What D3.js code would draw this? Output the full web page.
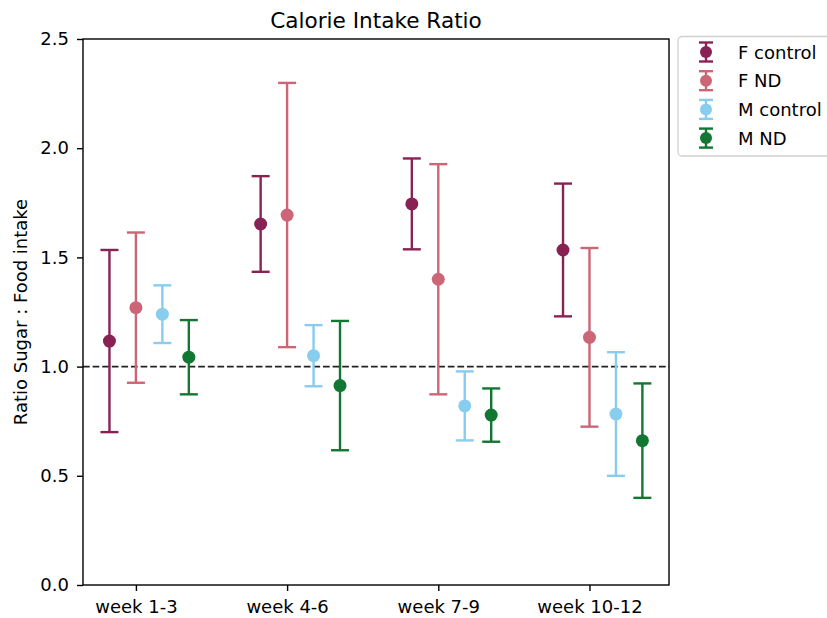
<!DOCTYPE html>
<html>
<head>
<meta charset="utf-8">
<script src="https://cdn.jsdelivr.net/npm/d3@7"></script>
<style>
body { margin: 0; background: #fff; }
text { font-family: "DejaVu Sans", sans-serif; fill: #000; }
</style>
</head>
<body>
<div id="chart"></div>
<script>
var width = 827;
var height = 618;

// data
var weeks = ["week 1-3", "week 4-6", "week 7-9", "week 10-12"];
var groups = ["F control", "F ND", "M control", "M ND"];
var colors = ["#882255", "#CC6677", "#88CCEE", "#117733"];
var offsets = [-0.175, 0, 0.175, 0.35];
var fControl = [1.117, 1.653, 1.745, 1.534];
var fControlErr = [0.417, 0.219, 0.208, 0.304];
var fND = [1.27, 1.694, 1.40, 1.134];
var fNDErr = [0.344, 0.605, 0.527, 0.409];
var mControl = [1.24, 1.05, 0.82, 0.783];
var mControlErr = [0.132, 0.14, 0.158, 0.283];
var mND = [1.043, 0.913, 0.778, 0.661];
var mNDErr = [0.17, 0.296, 0.122, 0.262];
var yTicks = [0, 0.5, 1.0, 1.5, 2.0, 2.5];

var means = [fControl, fND, mControl, mND];
var errs = [fControlErr, fNDErr, mControlErr, mNDErr];

var margin = {left: 83, right: 669, top: 39, bottom: 585};

var x = d3.scaleLinear().domain([-0.35, 3.526]).range([margin.left, margin.right]);
var y = d3.scaleLinear().domain([0, 2.5]).range([margin.bottom, margin.top]);

var svg = d3.select("#chart").append("svg")
  .attr("width", width)
  .attr("height", height);

// dashed reference line
svg.append("line")
  .attr("x1", margin.left).attr("x2", margin.right)
  .attr("y1", y(1)).attr("y2", y(1))
  .attr("stroke", "#222")
  .attr("stroke-width", 1.8)
  .attr("stroke-dasharray", "6.7,2.9");

var pts = [];
means.forEach(function(series, g) {
  series.forEach(function(v, i) {
    pts.push({g: g, i: i, v: v, e: errs[g][i]});
  });
});

var cap = 9;
var lw = 2.4;
var marks = svg.append("g").selectAll("g")
  .data(pts)
  .enter().append("g");

marks.append("line")
  .attr("x1", d => x(d.i + offsets[d.g])).attr("x2", d => x(d.i + offsets[d.g]))
  .attr("y1", d => y(d.v - d.e)).attr("y2", d => y(d.v + d.e))
  .attr("stroke", d => colors[d.g]).attr("stroke-width", lw);
marks.append("line")
  .attr("x1", d => x(d.i + offsets[d.g]) - cap).attr("x2", d => x(d.i + offsets[d.g]) + cap)
  .attr("y1", d => y(d.v + d.e)).attr("y2", d => y(d.v + d.e))
  .attr("stroke", d => colors[d.g]).attr("stroke-width", lw);
marks.append("line")
  .attr("x1", d => x(d.i + offsets[d.g]) - cap).attr("x2", d => x(d.i + offsets[d.g]) + cap)
  .attr("y1", d => y(d.v - d.e)).attr("y2", d => y(d.v - d.e))
  .attr("stroke", d => colors[d.g]).attr("stroke-width", lw);
marks.append("circle")
  .attr("cx", d => x(d.i + offsets[d.g]))
  .attr("cy", d => y(d.v))
  .attr("r", 6.5)
  .attr("fill", d => colors[d.g]);

// frame
svg.append("rect")
  .attr("x", margin.left).attr("y", margin.top)
  .attr("width", margin.right - margin.left)
  .attr("height", margin.bottom - margin.top)
  .attr("fill", "none").attr("stroke", "#000").attr("stroke-width", 1.4);

// axes
var xAxis = svg.append("g")
  .attr("transform", "translate(0," + margin.bottom + ")")
  .call(d3.axisBottom(x).tickValues([0, 1, 2, 3]).tickFormat(d => weeks[d]).tickSize(6).tickPadding(9));
var yAxis = svg.append("g")
  .attr("transform", "translate(" + margin.left + ",0)")
  .call(d3.axisLeft(y).tickValues(yTicks).tickFormat(d3.format(".1f")).tickSize(6).tickPadding(8));
[xAxis, yAxis].forEach(function(a) {
  a.select(".domain").remove();
  a.selectAll("text").style("font-size", "18px").style("font-family", "DejaVu Sans");
  a.selectAll("line").attr("stroke-width", 1.4);
});

svg.append("text")
  .attr("x", (margin.left + margin.right) / 2)
  .attr("y", 28)
  .attr("text-anchor", "middle")
  .style("font-size", "21.6px")
  .text("Calorie Intake Ratio");

svg.append("text")
  .attr("transform", "translate(27," + ((margin.top + margin.bottom) / 2) + ") rotate(-90)")
  .attr("text-anchor", "middle")
  .style("font-size", "18px")
  .text("Ratio Sugar : Food intake");

// legend
var legend = svg.append("g");
legend.append("rect")
  .attr("x", 678).attr("y", 36.5)
  .attr("width", 160).attr("height", 119.5)
  .attr("rx", 4)
  .attr("fill", "#fff").attr("stroke", "#d0d0d0").attr("stroke-width", 1.3);
groups.forEach(function(name, g) {
  var ly = 52 + g * 28.7;
  var lx = 706;
  legend.append("line")
    .attr("x1", lx).attr("x2", lx).attr("y1", ly - 9.5).attr("y2", ly + 9.5)
    .attr("stroke", colors[g]).attr("stroke-width", lw);
  legend.append("line")
    .attr("x1", lx - 7).attr("x2", lx + 7).attr("y1", ly - 9.5).attr("y2", ly - 9.5)
    .attr("stroke", colors[g]).attr("stroke-width", lw);
  legend.append("line")
    .attr("x1", lx - 7).attr("x2", lx + 7).attr("y1", ly + 9.5).attr("y2", ly + 9.5)
    .attr("stroke", colors[g]).attr("stroke-width", lw);
  legend.append("circle")
    .attr("cx", lx).attr("cy", ly).attr("r", 6)
    .attr("fill", colors[g]);
  legend.append("text")
    .attr("x", 738).attr("y", ly + 6.5)
    .style("font-size", "18px")
    .text(name);
});
</script>
</body>
</html>
